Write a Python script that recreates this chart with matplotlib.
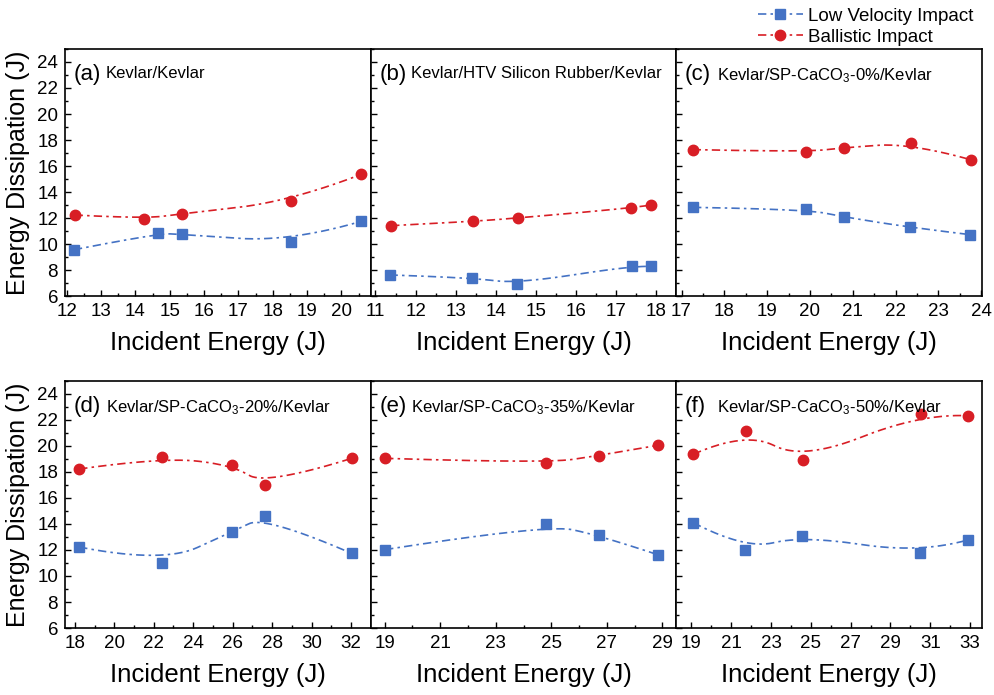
import numpy as np
import matplotlib
matplotlib.use("Agg")
import matplotlib.pyplot as plt
from matplotlib.lines import Line2D
from matplotlib.ticker import MultipleLocator

plt.rcParams['font.family'] = ['Liberation Sans', 'DejaVu Sans']
plt.rcParams['mathtext.fontset'] = 'custom'
plt.rcParams['mathtext.rm'] = 'Liberation Sans'
plt.rcParams['mathtext.it'] = 'Liberation Sans:italic'

# ==========================================
# data
# ==========================================
labels = ['(a)', '(b)', '(c)', '(d)', '(e)', '(f)']
titles = ['Kevlar/Kevlar',
          'Kevlar/HTV Silicon Rubber/Kevlar',
          'Kevlar/SP-CaCO$_3$-0%/Kevlar',
          'Kevlar/SP-CaCO$_3$-20%/Kevlar',
          'Kevlar/SP-CaCO$_3$-35%/Kevlar',
          'Kevlar/SP-CaCO$_3$-50%/Kevlar']

# low velocity impact (blue squares)
a_low_x = [12.21, 14.65, 15.36, 18.52, 20.57]
a_low_y = [9.56, 10.82, 10.74, 10.15, 11.74]
b_low_x = [11.35, 13.40, 14.52, 17.40, 17.88]
b_low_y = [7.62, 7.41, 6.95, 8.33, 8.28]
c_low_x = [17.27, 19.90, 20.80, 22.34, 23.74]
c_low_y = [12.82, 12.67, 12.08, 11.28, 10.72]
d_low_x = [18.22, 22.43, 25.99, 27.65, 32.04]
d_low_y = [12.23, 10.97, 13.41, 14.62, 11.74]
e_low_x = [19.02, 24.81, 26.70, 28.83]
e_low_y = [12.03, 13.97, 13.15, 11.64]
f_low_x = [19.10, 21.70, 24.58, 30.50, 32.88]
f_low_y = [14.10, 12.03, 13.10, 11.74, 12.77]

# ballistic impact (red circles)
a_bal_x = [12.23, 14.26, 15.37, 18.53, 20.58]
a_bal_y = [12.23, 11.95, 12.33, 13.28, 15.36]
b_bal_x = [11.39, 13.43, 14.54, 17.38, 17.88]
b_bal_y = [11.41, 11.74, 12.00, 12.77, 13.00]
c_bal_x = [17.26, 19.90, 20.80, 22.35, 23.75]
c_bal_y = [17.26, 17.08, 17.41, 17.77, 16.49]
d_bal_x = [18.22, 22.43, 25.99, 27.65, 32.04]
d_bal_y = [18.23, 19.13, 18.54, 16.97, 19.05]
e_bal_x = [19.02, 24.81, 26.70, 28.83]
e_bal_y = [19.05, 18.67, 19.26, 20.05]
f_bal_x = [19.10, 21.73, 24.60, 30.53, 32.88]
f_bal_y = [19.36, 21.15, 18.90, 22.49, 22.33]

low_x = [a_low_x, b_low_x, c_low_x, d_low_x, e_low_x, f_low_x]
low_y = [a_low_y, b_low_y, c_low_y, d_low_y, e_low_y, f_low_y]
bal_x = [a_bal_x, b_bal_x, c_bal_x, d_bal_x, e_bal_x, f_bal_x]
bal_y = [a_bal_y, b_bal_y, c_bal_y, d_bal_y, e_bal_y, f_bal_y]

xlims = [(11.95, 20.85), (10.88, 18.5), (16.88, 24.02),
         (17.5, 33.0), (18.5, 29.5), (18.25, 33.6)]
xmajor = [1, 1, 1, 2, 2, 2]
xstart = [12, 11, 17, 18, 19, 19]

BLUE = '#4472C4'
RED = '#D81E25'
DASH = (5, 2.5, 1.5, 2.5)


def bspline(xs, ys, n=300, k=2):
    """clamped B-spline on the data points (Origin-style smoothing)"""
    P = np.column_stack([xs, ys]).astype(float)
    m = len(P)
    k = min(k, m - 1)
    knots = np.concatenate([np.zeros(k), np.linspace(0, 1, m - k + 1), np.ones(k)])
    t = np.linspace(0, 1, n)
    t[-1] = 1 - 1e-12

    def N(i, p):
        if p == 0:
            return np.where((knots[i] <= t) & (t < knots[i + 1]), 1.0, 0.0)
        out = np.zeros_like(t)
        d1 = knots[i + p] - knots[i]
        d2 = knots[i + p + 1] - knots[i + 1]
        if d1 > 0:
            out += (t - knots[i]) / d1 * N(i, p - 1)
        if d2 > 0:
            out += (knots[i + p + 1] - t) / d2 * N(i + 1, p - 1)
        return out

    B = np.array([N(i, k) for i in range(m)])
    C = B.T @ P
    return C[:, 0], C[:, 1]


fig = plt.figure(figsize=(9.95, 6.95), dpi=100)
gs = fig.add_gridspec(2, 3, left=0.0653, right=0.987, top=0.9295, bottom=0.0964,
                      wspace=0, hspace=0.344)

for i in range(6):
    ax = fig.add_subplot(gs[i // 3, i % 3])

    cx, cy = bspline(low_x[i], low_y[i])
    ax.plot(cx, cy, color=BLUE, lw=1.2, dashes=DASH)
    ax.plot(low_x[i], low_y[i], 's', color=BLUE, ms=6.5, ls='none')

    cx, cy = bspline(bal_x[i], bal_y[i])
    ax.plot(cx, cy, color=RED, lw=1.2, dashes=DASH)
    ax.plot(bal_x[i], bal_y[i], 'o', color=RED, ms=7.5, ls='none')

    ax.set_xlim(*xlims[i])
    ax.set_ylim(6, 25)
    ax.xaxis.set_major_locator(MultipleLocator(xmajor[i], offset=xstart[i] % xmajor[i]))
    ax.xaxis.set_minor_locator(MultipleLocator(xmajor[i] / 2))
    ax.yaxis.set_major_locator(MultipleLocator(2))
    ax.yaxis.set_minor_locator(MultipleLocator(1))
    ax.tick_params(which='both', direction='in', top=False, right=False,
                   labelsize=13.5, width=1, pad=5)
    ax.tick_params(which='major', length=4.5)
    ax.tick_params(which='minor', length=2.5)
    for s in ax.spines.values():
        s.set_linewidth(1.2)

    ax.set_xlabel('Incident Energy (J)', fontsize=18.5, labelpad=8)
    if i % 3 == 0:
        ax.set_ylabel('Energy Dissipation (J)', fontsize=18, labelpad=5)
    else:
        ax.tick_params(labelleft=False)

    ax.text(0.028, 0.94, labels[i], transform=ax.transAxes, fontsize=16, va='top', ha='left')
    ax.text(0.133, 0.93, titles[i], transform=ax.transAxes, fontsize=12, va='top', ha='left')

handles = [Line2D([], [], color=BLUE, marker='s', ms=6.5, lw=1.2, dashes=DASH),
           Line2D([], [], color=RED, marker='o', ms=7.5, lw=1.2, dashes=DASH)]
fig.legend(handles, ['Low Velocity Impact', 'Ballistic Impact'],
           loc='upper right', bbox_to_anchor=(0.99, 1.005), frameon=False,
           fontsize=13.5, handlelength=2.4, handletextpad=0.3, labelspacing=0.2,
           numpoints=1, borderaxespad=0.2)

fig.savefig('out.png', dpi=100)
